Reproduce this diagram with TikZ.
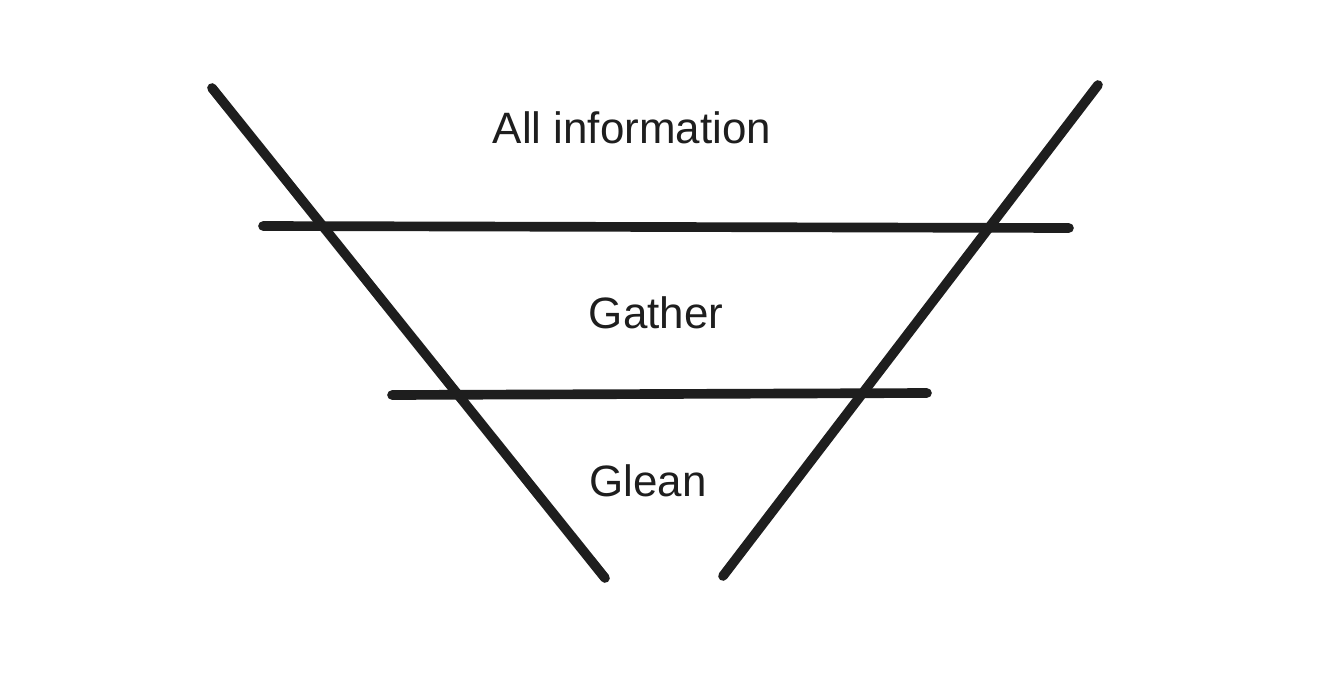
\documentclass[tikz,border=0pt]{standalone}
\usepackage{fontspec}
\setmainfont{Liberation Sans}
\definecolor{ink}{HTML}{1E1E1E}
\tikzset{
  stroke/.style={ink, line width=5.5pt, line cap=round},
  label/.style={text=ink, font=\fontsize{25}{29}\selectfont, inner sep=0pt}
}
\begin{document}
\begin{tikzpicture}[x=0.02cm, y=-0.02cm]
        \useasboundingbox[fill=white] (0,0) rectangle (1322,680);

        % funnel sides
        \coordinate (lefttop) at (212,88);
        \coordinate (leftbot) at (605,578);
        \coordinate (righttop) at (1098,85);
        \coordinate (rightbot) at (723,576);
        \draw[stroke] (lefttop) -- (leftbot);
        \draw[stroke] (righttop) -- (rightbot);

        % dividers
        \coordinate (upperL) at (263,226);
        \coordinate (upperR) at (1069,228);
        \coordinate (lowerL) at (392,395);
        \coordinate (lowerR) at (927,393);
        \draw[stroke] (upperL) -- (upperR);
        \draw[stroke] (lowerL) -- (lowerR);

        % levels
        \node[label] (all) at (632,128) {All information};
        \node[label] (gather) at (656,313) {Gather};
        \node[label] (glean) at (648,481) {Glean};
    \end{tikzpicture}
\end{document}
